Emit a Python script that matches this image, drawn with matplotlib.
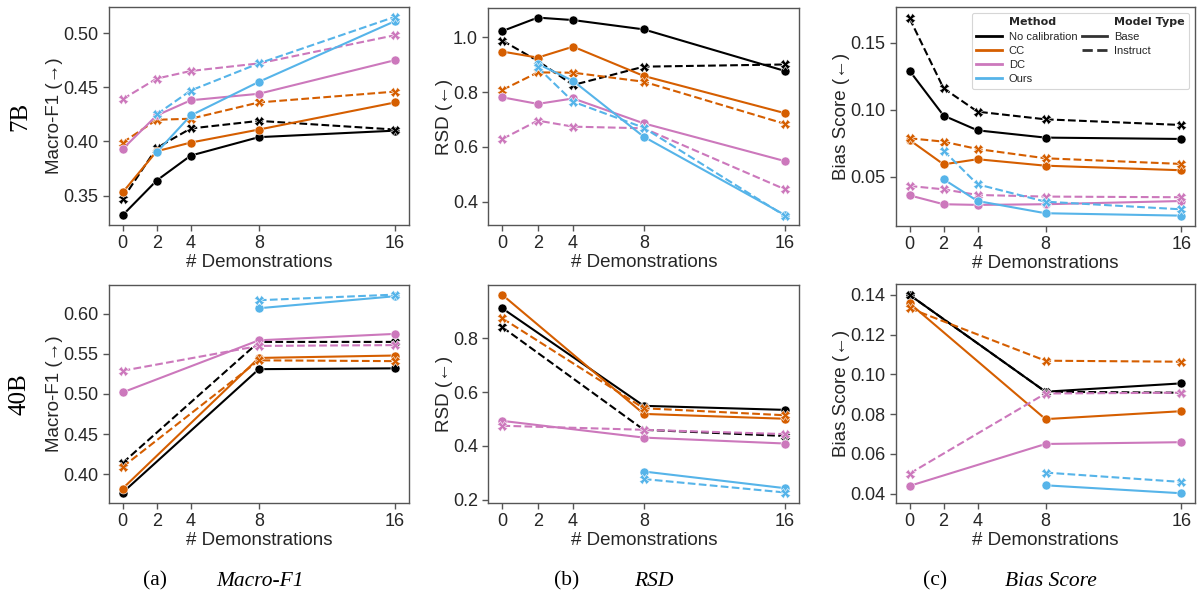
import numpy as np
import matplotlib
matplotlib.use("Agg")
import matplotlib.pyplot as plt
from matplotlib.lines import Line2D

plt.rcParams['font.family'] = ['Liberation Sans', 'DejaVu Sans']

# ---------------- data ----------------
x_7b = [0, 2, 4, 8, 16]
x_40b = [0, 8, 16]
xticks = [0, 2, 4, 8, 16]

methods = ["No calibration", "CC", "DC", "Ours"]
colors = {"No calibration": "#000000", "CC": "#D55E00", "DC": "#CC78BC", "Ours": "#56B4E9"}

# 7B Macro-F1
f1_7b_base = {
    "No calibration": [0.332, 0.364, 0.387, 0.404, 0.410],
    "CC": [0.353, 0.391, 0.399, 0.411, 0.436],
    "DC": [0.393, 0.424, 0.438, 0.444, 0.475],
    "Ours": [None, 0.390, 0.424, 0.455, 0.511],
}
f1_7b_inst = {
    "No calibration": [0.347, 0.394, 0.412, 0.419, 0.411],
    "CC": [0.399, 0.420, 0.421, 0.436, 0.446],
    "DC": [0.439, 0.458, 0.465, 0.472, 0.498],
    "Ours": [None, 0.425, 0.447, 0.472, 0.515],
}
# 7B RSD
rsd_7b_base = {
    "No calibration": [1.023, 1.072, 1.063, 1.029, 0.877],
    "CC": [0.948, 0.926, 0.966, 0.859, 0.723],
    "DC": [0.781, 0.757, 0.777, 0.686, 0.548],
    "Ours": [None, 0.903, 0.841, 0.637, 0.351],
}
rsd_7b_inst = {
    "No calibration": [0.988, 0.914, 0.826, 0.893, 0.901],
    "CC": [0.808, 0.872, 0.871, 0.838, 0.684],
    "DC": [0.629, 0.696, 0.674, 0.668, 0.445],
    "Ours": [None, 0.890, 0.765, 0.670, 0.348],
}
# 7B Bias Score
bias_7b_base = {
    "No calibration": [0.129, 0.0957, 0.0847, 0.0793, 0.0783],
    "CC": [0.0775, 0.0594, 0.0632, 0.0584, 0.0550],
    "DC": [0.0363, 0.0297, 0.0292, 0.0297, 0.0321],
    "Ours": [None, 0.0483, 0.0321, 0.0230, 0.0212],
}
bias_7b_inst = {
    "No calibration": [0.168, 0.116, 0.0986, 0.0929, 0.0887],
    "CC": [0.0788, 0.0763, 0.0708, 0.0639, 0.0597],
    "DC": [0.0433, 0.0408, 0.0366, 0.0354, 0.0349],
    "Ours": [None, 0.0696, 0.0445, 0.0316, 0.0259],
}
# 40B Macro-F1
f1_40b_base = {
    "No calibration": [0.377, 0.531, 0.532],
    "CC": [0.382, 0.545, 0.548],
    "DC": [0.502, 0.567, 0.575],
    "Ours": [None, 0.607, 0.622],
}
f1_40b_inst = {
    "No calibration": [0.414, 0.565, 0.565],
    "CC": [0.409, 0.542, 0.541],
    "DC": [0.529, 0.560, 0.561],
    "Ours": [None, 0.617, 0.624],
}
# 40B RSD
rsd_40b_base = {
    "No calibration": [0.911, 0.549, 0.534],
    "CC": [0.961, 0.519, 0.501],
    "DC": [0.493, 0.431, 0.409],
    "Ours": [None, 0.305, 0.243],
}
rsd_40b_inst = {
    "No calibration": [0.841, 0.460, 0.437],
    "CC": [0.874, 0.540, 0.514],
    "DC": [0.475, 0.460, 0.444],
    "Ours": [None, 0.277, 0.227],
}
# 40B Bias Score
bias_40b_base = {
    "No calibration": [0.140, 0.0913, 0.0955],
    "CC": [0.1358, 0.0775, 0.0815],
    "DC": [0.0439, 0.0650, 0.0659],
    "Ours": [None, 0.0442, 0.0402],
}
bias_40b_inst = {
    "No calibration": [0.140, 0.0913, 0.0908],
    "CC": [0.1333, 0.1069, 0.1064],
    "DC": [0.0501, 0.0904, 0.0908],
    "Ours": [None, 0.0506, 0.0459],
}

ylabels = ["Macro-F1 (\u2192)", "RSD (\u2190)", "Bias Score (\u2190)"]
row_labels = ["7B", "40B"]
captions = [("(a)", "Macro-F1"), ("(b)", "RSD"), ("(c)", "Bias Score")]

panels = [
    (x_7b, f1_7b_base, f1_7b_inst, (0.323, 0.524), [0.35, 0.40, 0.45, 0.50], "{:.2f}"),
    (x_7b, rsd_7b_base, rsd_7b_inst, (0.315, 1.106), [0.4, 0.6, 0.8, 1.0], "{:.1f}"),
    (x_7b, bias_7b_base, bias_7b_inst, (0.0135, 0.1763), [0.05, 0.10, 0.15], "{:.2f}"),
    (x_40b, f1_40b_base, f1_40b_inst, (0.364, 0.636), [0.40, 0.45, 0.50, 0.55, 0.60], "{:.2f}"),
    (x_40b, rsd_40b_base, rsd_40b_inst, (0.188, 0.998), [0.2, 0.4, 0.6, 0.8], "{:.1f}"),
    (x_40b, bias_40b_base, bias_40b_inst, (0.0353, 0.1455), [0.04, 0.06, 0.08, 0.10, 0.12, 0.14], "{:.2f}"),
]

# ---------------- figure ----------------
W, H = 1198, 596
fig = plt.figure(figsize=(W / 100, H / 100), dpi=100)

# axes boxes in pixels: left, right, top, bottom
boxes = [
    (109, 408.7, 7, 225), (488.3, 799.3, 8.3, 225), (896, 1195, 7.3, 226),
    (109, 408.7, 285, 503), (488.3, 799.3, 285, 503), (896, 1195, 284, 503),
]

text_col = "#262626"
spine_col = "#555555"
axes = []
for i, (xs, base, inst, ylim, yt, fmt) in enumerate(panels):
    l, r, t, b = boxes[i]
    ax = fig.add_axes([l / W, 1 - b / H, (r - l) / W, (b - t) / H])
    axes.append(ax)
    xa = np.array(xs, dtype=float)
    for m in methods:
        yb = np.array([np.nan if v is None else v for v in base[m]], dtype=float)
        yi = np.array([np.nan if v is None else v for v in inst[m]], dtype=float)
        ax.plot(xa, yb, color=colors[m], lw=1.5, ls='-', marker='o', ms=6.5,
                markeredgecolor='white', markeredgewidth=0.4, zorder=3)
        ax.plot(xa, yi, color=colors[m], lw=1.5, ls=(0, (3.7, 1.6)), marker='X', ms=6.5,
                markeredgecolor='white', markeredgewidth=0.4, zorder=3)
    ax.set_xlim(-0.8, 16.8)
    ax.set_ylim(*ylim)
    ax.set_xticks(xticks)
    ax.set_xticklabels([str(v) for v in xticks])
    ax.set_yticks(yt)
    ax.set_yticklabels([fmt.format(v) for v in yt])
    ax.tick_params(direction='out', length=4.5, width=1.0, colors=spine_col,
                   labelcolor=text_col, labelsize=13, pad=3)
    for s in ax.spines.values():
        s.set_color(spine_col)
        s.set_linewidth(1.0)
    ax.set_xlabel("# Demonstrations", fontsize=13.5, color=text_col, labelpad=1)
    ax.set_ylabel(ylabels[i % 3], fontsize=13.5, color=text_col, labelpad=0)

# row labels
for j, lab in enumerate(row_labels):
    l, r, t, b = boxes[3 * j]
    fig.text(20 / W, 1 - ((t + b) / 2) / H, lab, rotation=90, ha='center', va='center',
             fontsize=18, family=['Liberation Serif', 'DejaVu Serif'], color='black')

# captions
cap_pos = [(155, 260), (567, 654), (935, 1051)]
for (a, name), (xa_, xn) in zip(captions, cap_pos):
    fig.text(xa_ / W, 1 - 581 / H, a, ha='center', va='center', fontsize=15.5,
             family=['Liberation Serif', 'DejaVu Serif'], color='black')
    fig.text(xn / W, 1 - 581 / H, name, ha='center', va='center', fontsize=15.5,
             family=['Liberation Serif', 'DejaVu Serif'], style='italic', color='black')

# legend
ax3 = axes[2]
blank = Line2D([], [], color='none')
handles = [blank]
labels = ["Method"]
for m in methods:
    handles.append(Line2D([], [], color=colors[m], lw=2))
    labels.append(m)
handles += [blank, Line2D([], [], color='#333333', lw=2, ls='-'),
            Line2D([], [], color='#333333', lw=2, ls=(0, (3.7, 1.6))), blank, blank]
labels += ["Model Type", "Base", "Instruct", "", ""]
leg = ax3.legend(handles, labels, ncol=2, loc='upper right', bbox_to_anchor=(0.98, 0.974),
                 borderaxespad=0, fontsize=8, frameon=True, handlelength=2.3,
                 handletextpad=0.6, columnspacing=0.4, labelspacing=0.38,
                 borderpad=0.4, fancybox=True)
leg.get_frame().set_edgecolor('#cccccc')
leg.get_frame().set_linewidth(0.8)
for txt in leg.get_texts():
    txt.set_color(text_col)
    if txt.get_text() in ("Method", "Model Type"):
        txt.set_fontweight('bold')
        txt.set_fontfamily('DejaVu Sans')

fig.savefig("out.png", dpi=100)
